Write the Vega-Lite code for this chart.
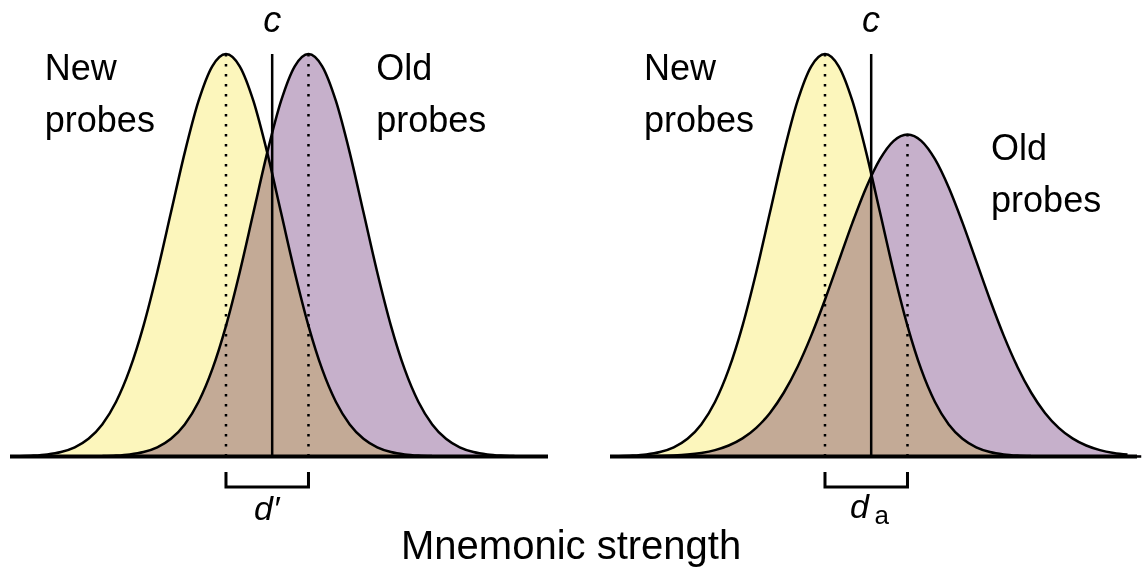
{
  "$schema": "https://vega.github.io/schema/vega-lite/v6.json",
  "padding": {"left": 8, "top": 0, "right": 0, "bottom": 0},
  "background": "white",
  "spacing": 58,
  "title": {"text": "Mnemonic strength", "orient": "bottom", "anchor": "middle", "font": "Liberation Sans", "fontSize": 40, "fontWeight": "normal", "color": "black", "offset": -2, "dx": -6},
  "config": {"view": {"stroke": null}, "font": "Liberation Sans"},
  "datasets": {
    "curves": [
      {"strength": -3.75, "new": 0.00035, "oldEqual": 0, "oldUnequal": 0.00005},
      {"strength": -3.5, "new": 0.00087, "oldEqual": 0, "oldUnequal": 0.00011},
      {"strength": -3.25, "new": 0.00203, "oldEqual": 0, "oldUnequal": 0.00023},
      {"strength": -3.0, "new": 0.00443, "oldEqual": 0.00002, "oldUnequal": 0.00049},
      {"strength": -2.75, "new": 0.00909, "oldEqual": 0.00005, "oldUnequal": 0.00099},
      {"strength": -2.5, "new": 0.01753, "oldEqual": 0.00013, "oldUnequal": 0.00191},
      {"strength": -2.25, "new": 0.03174, "oldEqual": 0.00035, "oldUnequal": 0.00355},
      {"strength": -2.0, "new": 0.05399, "oldEqual": 0.00087, "oldUnequal": 0.00633},
      {"strength": -1.75, "new": 0.08628, "oldEqual": 0.00203, "oldUnequal": 0.01087},
      {"strength": -1.5, "new": 0.12952, "oldEqual": 0.00443, "oldUnequal": 0.01792},
      {"strength": -1.25, "new": 0.18265, "oldEqual": 0.00909, "oldUnequal": 0.02838},
      {"strength": -1.0, "new": 0.24197, "oldEqual": 0.01753, "oldUnequal": 0.04319},
      {"strength": -0.75, "new": 0.30114, "oldEqual": 0.03174, "oldUnequal": 0.06316},
      {"strength": -0.5, "new": 0.35207, "oldEqual": 0.05399, "oldUnequal": 0.08874},
      {"strength": -0.25, "new": 0.38667, "oldEqual": 0.08628, "oldUnequal": 0.11978},
      {"strength": 0, "new": 0.39894, "oldEqual": 0.12952, "oldUnequal": 0.15535},
      {"strength": 0.25, "new": 0.38667, "oldEqual": 0.18265, "oldUnequal": 0.19358},
      {"strength": 0.5, "new": 0.35207, "oldEqual": 0.24197, "oldUnequal": 0.23175},
      {"strength": 0.75, "new": 0.30114, "oldEqual": 0.30114, "oldUnequal": 0.26658},
      {"strength": 1.0, "new": 0.24197, "oldEqual": 0.35207, "oldUnequal": 0.29462},
      {"strength": 1.25, "new": 0.18265, "oldEqual": 0.38667, "oldUnequal": 0.31284},
      {"strength": 1.5, "new": 0.12952, "oldEqual": 0.39894, "oldUnequal": 0.31915},
      {"strength": 1.75, "new": 0.08628, "oldEqual": 0.38667, "oldUnequal": 0.31284},
      {"strength": 2.0, "new": 0.05399, "oldEqual": 0.35207, "oldUnequal": 0.29462},
      {"strength": 2.25, "new": 0.03174, "oldEqual": 0.30114, "oldUnequal": 0.26658},
      {"strength": 2.5, "new": 0.01753, "oldEqual": 0.24197, "oldUnequal": 0.23175},
      {"strength": 2.75, "new": 0.00909, "oldEqual": 0.18265, "oldUnequal": 0.19358},
      {"strength": 3.0, "new": 0.00443, "oldEqual": 0.12952, "oldUnequal": 0.15535},
      {"strength": 3.25, "new": 0.00203, "oldEqual": 0.08628, "oldUnequal": 0.11978},
      {"strength": 3.5, "new": 0.00087, "oldEqual": 0.05399, "oldUnequal": 0.08874},
      {"strength": 3.75, "new": 0.00035, "oldEqual": 0.03174, "oldUnequal": 0.06316},
      {"strength": 4.0, "new": 0.00013, "oldEqual": 0.01753, "oldUnequal": 0.04319},
      {"strength": 4.25, "new": 0.00004, "oldEqual": 0.00909, "oldUnequal": 0.02838},
      {"strength": 4.5, "new": 0.00001, "oldEqual": 0.00443, "oldUnequal": 0.01792},
      {"strength": 4.75, "new": 0, "oldEqual": 0.00203, "oldUnequal": 0.01087},
      {"strength": 5.0, "new": 0, "oldEqual": 0.00087, "oldUnequal": 0.00633},
      {"strength": 5.25, "new": 0, "oldEqual": 0.00035, "oldUnequal": 0.00355},
      {"strength": 5.5, "new": 0, "oldEqual": 0.00013, "oldUnequal": 0.00191},
      {"strength": 5.75, "new": 0, "oldEqual": 0.00004, "oldUnequal": 0.00099}
    ],
    "refs": [
      {"panel": "left", "kind": "mean", "strength": 0, "top": 0.39894, "bottom": 0},
      {"panel": "left", "kind": "mean", "strength": 1.5, "top": 0.39894, "bottom": 0},
      {"panel": "left", "kind": "criterion", "strength": 0.84, "top": 0.39894, "bottom": 0},
      {"panel": "right", "kind": "mean", "strength": 0, "top": 0.39894, "bottom": 0},
      {"panel": "right", "kind": "mean", "strength": 1.5, "top": 0.31915, "bottom": 0},
      {"panel": "right", "kind": "criterion", "strength": 0.84, "top": 0.39894, "bottom": 0}
    ],
    "baseline": [
      {"panel": "left", "start": -3.927, "end": 5.855, "level": 0},
      {"panel": "right", "start": -3.909, "end": 5.673, "level": 0}
    ],
    "bracket": [
      {"panel": "left", "step": 1, "strength": 0, "density": -0.0154},
      {"panel": "left", "step": 2, "strength": 0, "density": -0.0302},
      {"panel": "left", "step": 3, "strength": 1.5, "density": -0.0302},
      {"panel": "left", "step": 4, "strength": 1.5, "density": -0.0154},
      {"panel": "right", "step": 1, "strength": 0, "density": -0.0154},
      {"panel": "right", "step": 2, "strength": 0, "density": -0.0302},
      {"panel": "right", "step": 3, "strength": 1.5, "density": -0.0302},
      {"panel": "right", "step": 4, "strength": 1.5, "density": -0.0154}
    ],
    "labels": [
      {"panel": "left", "role": "probe", "text": "New\nprobes", "strength": -3.294, "height": 0.3731},
      {"panel": "left", "role": "probe", "text": "Old\nprobes", "strength": 2.73, "height": 0.3731},
      {"panel": "left", "role": "criterion", "text": "c", "strength": 0.84, "height": 0.4207},
      {"panel": "left", "role": "sensitivity", "text": "d′", "strength": 0.74, "height": -0.0629},
      {"panel": "right", "role": "probe", "text": "New\nprobes", "strength": -3.29, "height": 0.3731},
      {"panel": "right", "role": "probe", "text": "Old\nprobes", "strength": 3.02, "height": 0.2938},
      {"panel": "right", "role": "criterion", "text": "c", "strength": 0.836, "height": 0.4207},
      {"panel": "right", "role": "sensitivity", "text": "d", "strength": 0.8, "height": -0.0605},
      {"panel": "right", "role": "subscript", "text": "a", "strength": 0.9, "height": -0.0665}
    ]
  },
  "hconcat": [
    {
      "width": 538,
      "height": 526,
      "layer": [
        {
          "data": {"name": "curves"},
          "mark": {"type": "area", "fill": "#fcf6bc", "interpolate": "monotone"},
          "encoding": {
            "x": {"field": "strength", "type": "quantitative", "scale": {"domain": [-3.927, 5.855], "nice": false, "zero": false}, "axis": null},
            "y": {"field": "new", "type": "quantitative", "scale": {"domain": [-0.0689, 0.4524], "nice": false, "zero": false}, "axis": null}
          }
        },
        {
          "data": {"name": "curves"},
          "mark": {"type": "area", "fill": "#c6b0cb", "blend": "multiply", "interpolate": "monotone"},
          "encoding": {
            "x": {"field": "strength", "type": "quantitative", "axis": null},
            "y": {"field": "oldEqual", "type": "quantitative", "axis": null}
          }
        },
        {
          "data": {"name": "curves"},
          "mark": {"type": "line", "stroke": "black", "strokeWidth": 2.5, "interpolate": "monotone"},
          "encoding": {
            "x": {"field": "strength", "type": "quantitative", "axis": null},
            "y": {"field": "new", "type": "quantitative", "axis": null}
          }
        },
        {
          "data": {"name": "curves"},
          "transform": [{"filter": "datum.strength >= -2.75"}],
          "mark": {"type": "line", "stroke": "black", "strokeWidth": 2.5, "interpolate": "monotone"},
          "encoding": {
            "x": {"field": "strength", "type": "quantitative", "axis": null},
            "y": {"field": "oldEqual", "type": "quantitative", "axis": null}
          }
        },
        {
          "data": {"name": "baseline"},
          "transform": [{"filter": "datum.panel === 'left'"}],
          "mark": {"type": "rule", "stroke": "black", "strokeWidth": 4},
          "encoding": {
            "x": {"field": "start", "type": "quantitative", "axis": null},
            "x2": {"field": "end"},
            "y": {"field": "level", "type": "quantitative", "axis": null}
          }
        },
        {
          "data": {"name": "refs"},
          "transform": [{"filter": "datum.panel === 'left' && datum.kind === 'mean'"}],
          "mark": {"type": "rule", "stroke": "black", "strokeWidth": 2.5, "strokeDash": [2.5, 7.5]},
          "encoding": {
            "x": {"field": "strength", "type": "quantitative", "axis": null},
            "y": {"field": "bottom", "type": "quantitative", "axis": null},
            "y2": {"field": "top"}
          }
        },
        {
          "data": {"name": "refs"},
          "transform": [{"filter": "datum.panel === 'left' && datum.kind === 'criterion'"}],
          "mark": {"type": "rule", "stroke": "black", "strokeWidth": 2.5},
          "encoding": {
            "x": {"field": "strength", "type": "quantitative", "axis": null},
            "y": {"field": "bottom", "type": "quantitative", "axis": null},
            "y2": {"field": "top"}
          }
        },
        {
          "data": {"name": "bracket"},
          "transform": [{"filter": "datum.panel === 'left'"}],
          "mark": {"type": "line", "stroke": "black", "strokeWidth": 3, "strokeJoin": "miter"},
          "encoding": {
            "x": {"field": "strength", "type": "quantitative", "axis": null},
            "y": {"field": "density", "type": "quantitative", "axis": null},
            "order": {"field": "step", "type": "quantitative"}
          }
        },
        {
          "data": {"name": "labels"},
          "transform": [{"filter": "datum.panel === 'left' && datum.role === 'probe'"}],
          "mark": {"type": "text", "align": "left", "baseline": "alphabetic", "fontSize": 36, "lineHeight": 52, "lineBreak": "\n", "color": "black"},
          "encoding": {
            "x": {"field": "strength", "type": "quantitative", "axis": null},
            "y": {"field": "height", "type": "quantitative", "axis": null},
            "text": {"field": "text", "type": "nominal"}
          }
        },
        {
          "data": {"name": "labels"},
          "transform": [{"filter": "datum.panel === 'left' && datum.role === 'criterion'"}],
          "mark": {"type": "text", "align": "center", "baseline": "alphabetic", "fontSize": 36, "fontStyle": "italic", "color": "black"},
          "encoding": {
            "x": {"field": "strength", "type": "quantitative", "axis": null},
            "y": {"field": "height", "type": "quantitative", "axis": null},
            "text": {"field": "text", "type": "nominal"}
          }
        },
        {
          "data": {"name": "labels"},
          "transform": [{"filter": "datum.panel === 'left' && datum.role === 'sensitivity'"}],
          "mark": {"type": "text", "align": "center", "baseline": "alphabetic", "fontSize": 34, "fontStyle": "italic", "color": "black"},
          "encoding": {
            "x": {"field": "strength", "type": "quantitative", "axis": null},
            "y": {"field": "height", "type": "quantitative", "axis": null},
            "text": {"field": "text", "type": "nominal"}
          }
        }
      ]
    },
    {
      "width": 532,
      "height": 526,
      "layer": [
        {
          "data": {"name": "curves"},
          "mark": {"type": "area", "fill": "#fcf6bc", "interpolate": "monotone"},
          "encoding": {
            "x": {"field": "strength", "type": "quantitative", "scale": {"domain": [-3.909, 5.764], "nice": false, "zero": false}, "axis": null},
            "y": {"field": "new", "type": "quantitative", "scale": {"domain": [-0.0689, 0.4524], "nice": false, "zero": false}, "axis": null}
          }
        },
        {
          "data": {"name": "curves"},
          "mark": {"type": "area", "fill": "#c6b0cb", "blend": "multiply", "interpolate": "monotone"},
          "encoding": {
            "x": {"field": "strength", "type": "quantitative", "axis": null},
            "y": {"field": "oldUnequal", "type": "quantitative", "axis": null}
          }
        },
        {
          "data": {"name": "curves"},
          "mark": {"type": "line", "stroke": "black", "strokeWidth": 2.5, "interpolate": "monotone"},
          "encoding": {
            "x": {"field": "strength", "type": "quantitative", "axis": null},
            "y": {"field": "new", "type": "quantitative", "axis": null}
          }
        },
        {
          "data": {"name": "curves"},
          "transform": [{"filter": "datum.strength <= 5.5"}],
          "mark": {"type": "line", "stroke": "black", "strokeWidth": 2.5, "interpolate": "monotone"},
          "encoding": {
            "x": {"field": "strength", "type": "quantitative", "axis": null},
            "y": {"field": "oldUnequal", "type": "quantitative", "axis": null}
          }
        },
        {
          "data": {"name": "baseline"},
          "transform": [{"filter": "datum.panel === 'right'"}],
          "mark": {"type": "rule", "stroke": "black", "strokeWidth": 4},
          "encoding": {
            "x": {"field": "start", "type": "quantitative", "axis": null},
            "x2": {"field": "end"},
            "y": {"field": "level", "type": "quantitative", "axis": null}
          }
        },
        {
          "data": {"name": "refs"},
          "transform": [{"filter": "datum.panel === 'right' && datum.kind === 'mean'"}],
          "mark": {"type": "rule", "stroke": "black", "strokeWidth": 2.5, "strokeDash": [2.5, 7.5]},
          "encoding": {
            "x": {"field": "strength", "type": "quantitative", "axis": null},
            "y": {"field": "bottom", "type": "quantitative", "axis": null},
            "y2": {"field": "top"}
          }
        },
        {
          "data": {"name": "refs"},
          "transform": [{"filter": "datum.panel === 'right' && datum.kind === 'criterion'"}],
          "mark": {"type": "rule", "stroke": "black", "strokeWidth": 2.5},
          "encoding": {
            "x": {"field": "strength", "type": "quantitative", "axis": null},
            "y": {"field": "bottom", "type": "quantitative", "axis": null},
            "y2": {"field": "top"}
          }
        },
        {
          "data": {"name": "bracket"},
          "transform": [{"filter": "datum.panel === 'right'"}],
          "mark": {"type": "line", "stroke": "black", "strokeWidth": 3, "strokeJoin": "miter"},
          "encoding": {
            "x": {"field": "strength", "type": "quantitative", "axis": null},
            "y": {"field": "density", "type": "quantitative", "axis": null},
            "order": {"field": "step", "type": "quantitative"}
          }
        },
        {
          "data": {"name": "labels"},
          "transform": [{"filter": "datum.panel === 'right' && datum.role === 'probe'"}],
          "mark": {"type": "text", "align": "left", "baseline": "alphabetic", "fontSize": 36, "lineHeight": 52, "lineBreak": "\n", "color": "black"},
          "encoding": {
            "x": {"field": "strength", "type": "quantitative", "axis": null},
            "y": {"field": "height", "type": "quantitative", "axis": null},
            "text": {"field": "text", "type": "nominal"}
          }
        },
        {
          "data": {"name": "labels"},
          "transform": [{"filter": "datum.panel === 'right' && datum.role === 'criterion'"}],
          "mark": {"type": "text", "align": "center", "baseline": "alphabetic", "fontSize": 36, "fontStyle": "italic", "color": "black"},
          "encoding": {
            "x": {"field": "strength", "type": "quantitative", "axis": null},
            "y": {"field": "height", "type": "quantitative", "axis": null},
            "text": {"field": "text", "type": "nominal"}
          }
        },
        {
          "data": {"name": "labels"},
          "transform": [{"filter": "datum.panel === 'right' && datum.role === 'sensitivity'"}],
          "mark": {"type": "text", "align": "right", "baseline": "alphabetic", "fontSize": 34, "fontStyle": "italic", "color": "black"},
          "encoding": {
            "x": {"field": "strength", "type": "quantitative", "axis": null},
            "y": {"field": "height", "type": "quantitative", "axis": null},
            "text": {"field": "text", "type": "nominal"}
          }
        },
        {
          "data": {"name": "labels"},
          "transform": [{"filter": "datum.panel === 'right' && datum.role === 'subscript'"}],
          "mark": {"type": "text", "align": "left", "baseline": "alphabetic", "fontSize": 26, "color": "black"},
          "encoding": {
            "x": {"field": "strength", "type": "quantitative", "axis": null},
            "y": {"field": "height", "type": "quantitative", "axis": null},
            "text": {"field": "text", "type": "nominal"}
          }
        }
      ]
    }
  ]
}
